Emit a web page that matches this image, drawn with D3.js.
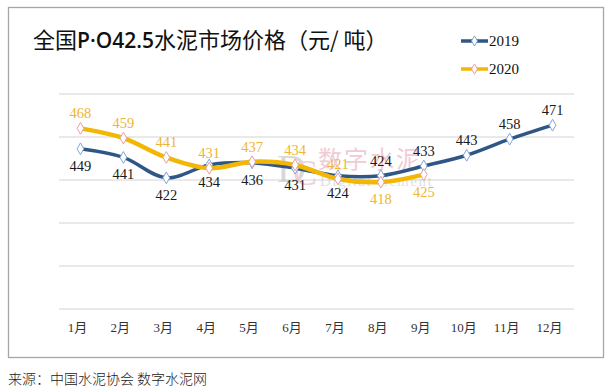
<!DOCTYPE html>
<html><head><meta charset="utf-8">
<script src="https://cdn.jsdelivr.net/npm/d3@7"></script>
<style>body{margin:0;background:#fff}svg{display:block}</style>
</head><body>
<svg id="c" width="612" height="390"></svg>
<script>
const months = ["1月","2月","3月","4月","5月","6月","7月","8月","9月","10月","11月","12月"];
const values2019 = [449,441,422,434,436,431,424,424,433,443,458,471];
const values2020 = [468,459,441,431,437,434,421,418,425];
const labelPos2019 = ["b","b","b","b","b","b","b","t","t","t","t","t"];
const labelPos2020 = ["t","t","t","t","t","t","t","b","b"];
const yTicks = [300,340,380,420,460,500];
const seriesNames = ["2019","2020"];

const svg = d3.select("#c");
const blue = "#2f5786", gold = "#f2b705";

svg.append("rect").attr("x",8.5).attr("y",7.5).attr("width",595).attr("height",350)
  .attr("fill","#fff").attr("stroke","#a6a6a6").attr("stroke-width",1.3);

const x = d3.scaleBand().domain(months).range([59,574]);
const y = d3.scaleLinear().domain([300,500]).range([309,94]);

svg.append("g").selectAll("line").data(yTicks).join("line")
  .attr("x1",59).attr("x2",574).attr("y1",d=>y(d)).attr("y2",d=>y(d))
  .attr("stroke","#d3d3d3").attr("stroke-width",1.2);

// watermark
const wm = svg.append("g").attr("opacity",0.55);
wm.append("text").attr("x",277).attr("y",182).attr("font-family","Liberation Serif").attr("font-size",40).attr("fill","#b9b9b9").text("D");
wm.append("text").attr("x",293).attr("y",185).attr("font-family","Liberation Serif").attr("font-size",36).attr("fill","#e8aab8").text("C");
wm.append("text").attr("x",318).attr("y",168).attr("font-family","Noto Sans CJK SC").attr("font-size",24).attr("fill","#e8a0b4").attr("letter-spacing",2).text("数字水泥");
wm.append("text").attr("x",320).attr("y",186).attr("font-family","Liberation Serif").attr("font-size",15).attr("fill","#c8c8c8").attr("letter-spacing",1.5).text("Digital Cement");

const xa = svg.append("g");
xa.selectAll("text").data(months).join("text")
  .attr("x",d=>x(d)+x.bandwidth()/2 - 3).attr("y",332)
  .attr("text-anchor","middle").attr("font-family","Liberation Serif, Noto Sans CJK SC").attr("font-size",13).attr("fill","#333")
  .text(d=>d);

const line = d3.line().x((d,i)=>x(months[i])+x.bandwidth()/2).y(d=>y(d)).curve(d3.curveCatmullRom.alpha(0.5));

function drawSeries(vals, color, width, mstroke, lpos, lcolor){
  svg.append("path").attr("d",line(vals)).attr("fill","none").attr("stroke",color).attr("stroke-width",width).attr("stroke-linecap","round");
  const sym = d3.symbol().type(d3.symbolDiamond).size(40);
  svg.append("g").selectAll("path").data(vals).join("path")
    .attr("transform",(d,i)=>`translate(${x(months[i])+x.bandwidth()/2},${y(d)})`)
    .attr("d",sym).attr("fill","#fff").attr("stroke",mstroke).attr("stroke-width",1);
  svg.append("g").selectAll("text").data(vals).join("text")
    .attr("x",(d,i)=>x(months[i])+x.bandwidth()/2)
    .attr("y",(d,i)=>y(d)+(lpos[i]==="b"?22:-10))
    .attr("text-anchor","middle").attr("font-family","Liberation Serif").attr("font-size",14.5).attr("fill",lcolor)
    .text(d=>d);
}
drawSeries(values2019, blue, 3.5, "#7fa6d6", labelPos2019, "#1a1a1a");
drawSeries(values2020, gold, 4.5, "#e7a0a0", labelPos2020, "#eeb534");

const title = svg.append("text").attr("x",33).attr("y",48).attr("font-family","Noto Sans CJK SC").attr("font-size",22).attr("fill","#111");
title.append("tspan").text("全国");
title.append("tspan").attr("font-family","Open Sans").attr("font-weight",600).attr("font-size",21).text("P·O42.5");
title.append("tspan").text("水泥市场价格（元/ 吨）");

const lg = svg.append("g");
[[seriesNames[0],blue,3.5,"#7fa6d6",41],[seriesNames[1],gold,3.5,"#e7a0a0",69]].forEach(([n,c,w,ms,yy])=>{
  lg.append("line").attr("x1",461).attr("x2",488).attr("y1",yy).attr("y2",yy).attr("stroke",c).attr("stroke-width",w);
  lg.append("path").attr("transform",`translate(474.5,${yy})`).attr("d",d3.symbol().type(d3.symbolDiamond).size(30)).attr("fill","#fff").attr("stroke",ms);
  lg.append("text").attr("x",489).attr("y",yy+5).attr("font-family","Liberation Serif").attr("font-size",15).attr("fill","#111").text(n);
});

svg.append("text").attr("x",8).attr("y",384).attr("font-family","Noto Sans CJK SC").attr("font-weight",300).attr("font-size",14).attr("fill","#222").text("来源：中国水泥协会 数字水泥网");
</script>
</body></html>
